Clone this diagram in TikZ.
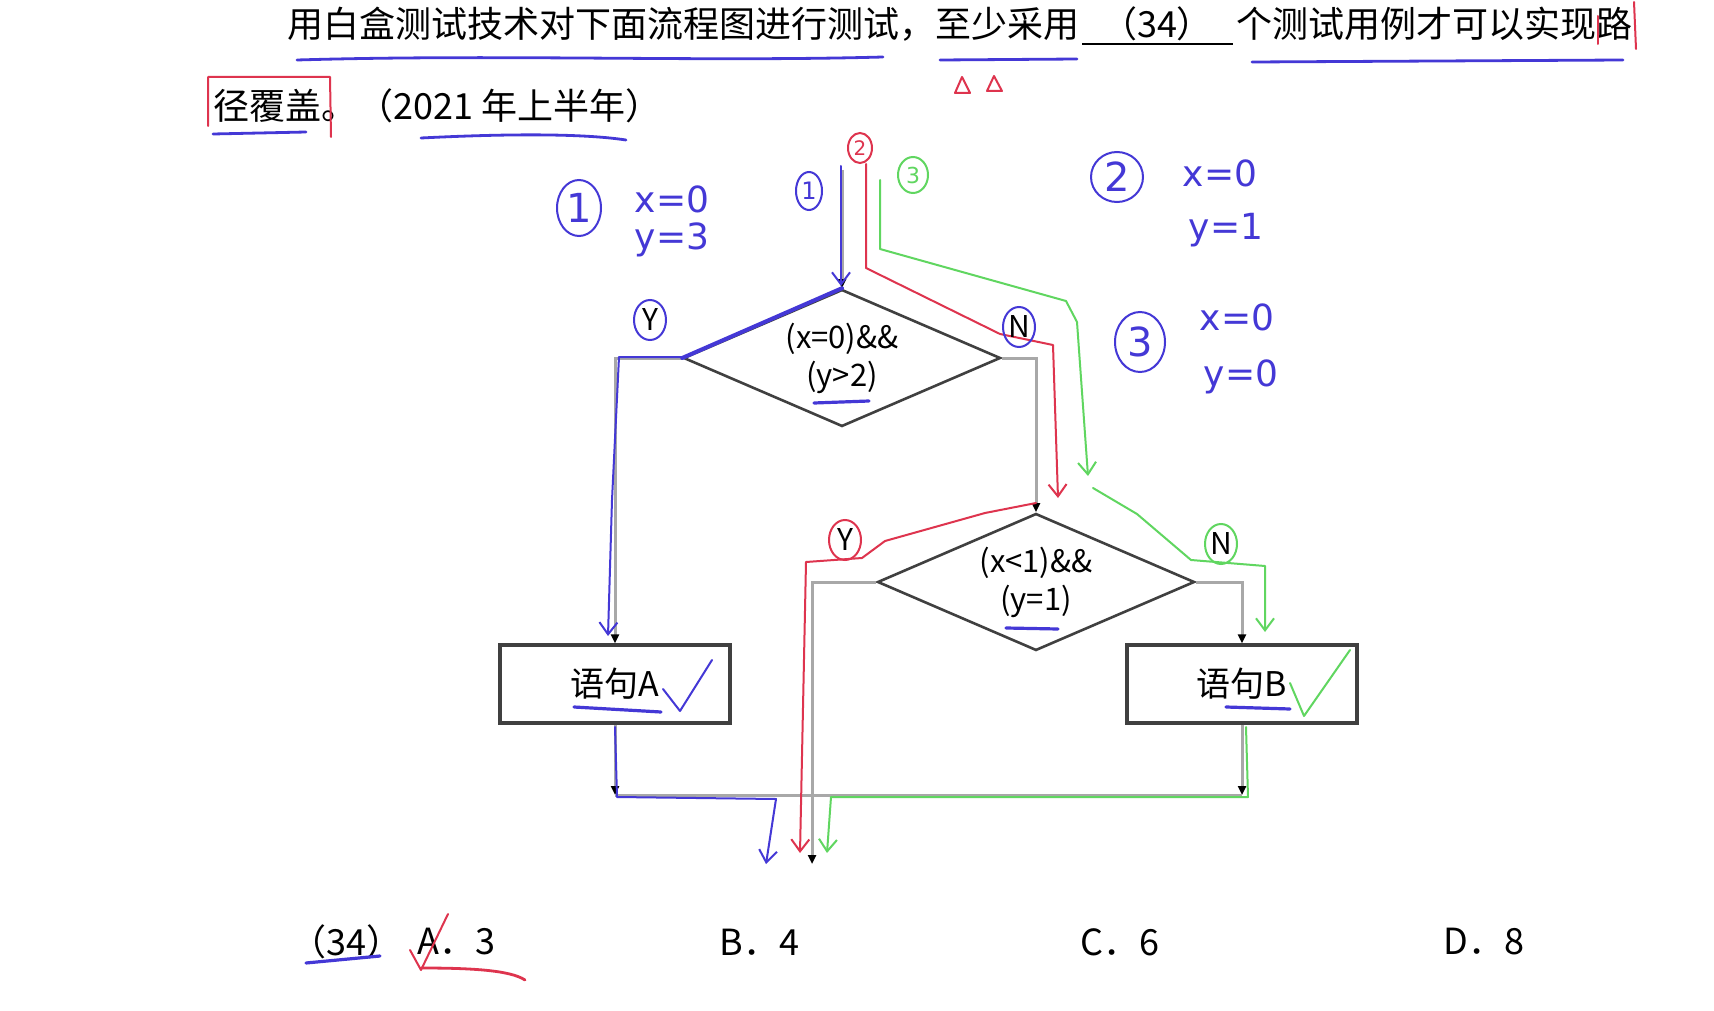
\documentclass[tikz,border=0pt]{standalone}
\usepackage{fontspec}
\setmainfont{Noto Sans CJK SC}
\newfontfamily\handfont{DejaVu Sans}
\usepackage{xcolor}
\usetikzlibrary{arrows.meta,shapes.geometric,positioning,calc}
\definecolor{penblue}{RGB}{68,56,214}
\definecolor{penred}{RGB}{222,52,78}
\definecolor{pengreen}{RGB}{96,214,96}
\definecolor{flowgray}{RGB}{168,168,168}

\begin{document}
\begin{tikzpicture}[x=0.5pt,y=-0.5pt,
  txt/.style={inner sep=0pt, font=\fontsize{18}{20}\selectfont},
  ans/.style={inner sep=0pt, font=\fontsize{18}{20}\selectfont},
  dec/.style={draw=black!75, line width=1.3pt, diamond, aspect=2.3, minimum width=158.5pt, minimum height=68.5pt, inner sep=0pt, align=center, font=\fontsize{15.5}{19}\selectfont},
  stmt/.style={draw=black!75, line width=1.6pt, minimum width=115pt, minimum height=39pt, font=\fontsize{17}{18}\selectfont},
  flow/.style={draw=flowgray, line width=1.5pt, -{Triangle[color=black,length=4.5pt,width=4pt]}},
  pen/.style={line width=1pt, line cap=round, line join=round},
  penarrow/.style={pen, -{Straight Barb[length=6pt,width=9pt]}},
  ring/.style={ellipse, draw, line width=1pt, inner sep=0pt},
  yn/.style={ring, font=\fontsize{15}{16}\selectfont, minimum width=16pt, minimum height=20pt},
  hand/.style={inner sep=0pt, font=\handfont\fontsize{18}{20}\selectfont, text=penblue},
]
\useasboundingbox[fill=white] (0,0) rectangle (1714,1011);

% question text
\node[txt, anchor=west] (q1) at (287,24) {用白盒测试技术对下面流程图进行测试，至少采用};
\node[txt] (blank) at (1157,24) {（34）};
\draw[line width=1.2pt] (1082,44) -- (1233,44);
\node[txt, anchor=west] (q2) at (1236,24) {个测试用例才可以实现路};
\node[txt, anchor=west] (q3) at (213,106) {径覆盖。（2021 年上半年）};

% flowchart
\node[dec] (d1) at (842,358) {(x=0)\&\&\\(y>2)};
\node[dec] (d2) at (1036,582) {(x<1)\&\&\\(y=1)};
\node[stmt] (sa) at (615,684) {语句A};
\node[stmt] (sb) at (1242,684) {语句B};
\coordinate (top) at (842,170);
\coordinate (exit) at (812,864);
\coordinate (join) at (615,795);

\draw[flow] (top) -- (d1.north);
\draw[flow] (d1.west) -| (sa.north);
\draw[flow] (d1.east) -| (d2.north);
\draw[flow] (d2.west) -| (exit);
\draw[flow] (d2.east) -| (sb.north);
\draw[flow] (sa.south) -- (sa.south |- join);
\draw[flow] (sb.south) -- (sb.south |- join);
\draw[flowgray, line width=1.5pt] (sa.south |- join) -- (sb.south |- join);

% path 1
\draw[penblue, penarrow] (841,166) -- (841,286);
\draw[penblue, pen, line width=2pt] (d1.north) -- (d1.west);
\draw[penblue, penarrow] (683,357) -- (619,357) -- (612,500) -- (608,636);
\draw[penblue, penarrow] (615,727) -- (617,797) -- (776,799) -- (766,864);
% path 2
\draw[penred, penarrow] (866,164) -- (866,268) -- (1000,334) -- (1053,345) -- (1058,498);
\draw[penred, penarrow] (1036,503) -- (985,513) -- (885,541) -- (862,558) -- (806,562) -- (800,853);
% path 3
\draw[pengreen, penarrow] (880,180) -- (880,249) -- (1066,301) -- (1077,322) -- (1088,476);
\draw[pengreen, penarrow] (1093,488) -- (1137,514) -- (1191,560) -- (1265,566) -- (1265,632);
\draw[pengreen, penarrow] (1246,727) -- (1248,797) -- (831,797) -- (827,853);

% path labels
\node[ring, draw=penblue, text=penblue, font=\handfont\fontsize{12}{12}\selectfont, minimum width=13pt, minimum height=19pt] (p1) at (809,191) {1};
\node[ring, draw=penred, text=penred, font=\handfont\fontsize{10}{10}\selectfont, minimum width=12pt, minimum height=15pt] (p2) at (860,148) {2};
\node[ring, draw=pengreen, text=pengreen, font=\handfont\fontsize{11}{11}\selectfont, minimum width=15pt, minimum height=18pt] (p3) at (913,175) {3};
\node[yn, draw=penblue] (y1) at (650,320) {Y};
\node[yn, draw=penblue] (n1) at (1019,327) {N};
\node[yn, draw=penred] (y2) at (845,540) {Y};
\node[yn, draw=pengreen] (n2) at (1221,544) {N};

% test cases
\node[ring, draw=penblue, text=penblue, font=\handfont\fontsize{20}{20}\selectfont, minimum width=22pt, minimum height=28pt] (c1) at (579,208) {1};
\node[hand] (c1x) at (672,199) {x=0};
\node[hand] (c1y) at (672,240) {y=3};
\node[ring, draw=penblue, text=penblue, font=\handfont\fontsize{20}{20}\selectfont, minimum width=26pt, minimum height=25pt] (c2) at (1117,177) {2};
\node[hand] (c2x) at (1220,173) {x=0};
\node[hand] (c2y) at (1226,230) {y=1};
\node[ring, draw=penblue, text=penblue, font=\handfont\fontsize{20}{20}\selectfont, minimum width=25pt, minimum height=30pt] (c3) at (1140,342) {3};
\node[hand] (c3x) at (1237,317) {x=0};
\node[hand] (c3y) at (1241,377) {y=0};

% marks
\draw[penblue, pen, line width=1.6pt] (574,707) -- (661,712);
\draw[penblue, pen, line width=1.6pt] (1226,707) -- (1290,709);
\draw[penblue, pen, line width=1.6pt] (814,403) -- (869,401);
\draw[penblue, pen, line width=1.6pt] (1006,628) -- (1058,629);
\draw[penblue, pen] (663,689) -- (680,711) -- (712,660);
\draw[pengreen, pen] (1290,683) -- (1304,716) -- (1350,650);
\draw[penblue, pen, line width=1.4pt] (297,60) .. controls (500,54) and (700,62) .. (883,57);
\draw[penblue, pen, line width=1.4pt] (940,60) -- (1077,59);
\draw[penblue, pen, line width=1.4pt] (1252,62) -- (1623,60);
\draw[penblue, pen, line width=1.4pt] (213,134) -- (306,132);
\draw[penblue, pen, line width=1.4pt] (421,138) .. controls (500,134) and (580,133) .. (626,140);
\draw[penred, pen] (955,93) -- (962,77) -- (970,93) -- cycle;
\draw[penred, pen] (987,91) -- (994,76) -- (1002,91) -- cycle;
\draw[penred, pen] (1598,16) -- (1598,44);
\draw[penred, pen] (1634,2) -- (1636,49);
\draw[penred, pen] (208,126) -- (208,77) -- (330,77) -- (331,137);

% answers
\node[ans, anchor=west] (a0) at (290,942) {（34）};
\node[ans, anchor=west] (a1) at (417,942) {A．3};
\node[ans, anchor=west] (a2) at (719,942) {B．4};
\node[ans, anchor=west] (a3) at (1080,942) {C．6};
\node[ans, anchor=west] (a4) at (1443,942) {D．8};
\draw[penblue, pen, line width=1.6pt] (306,963) -- (380,956);
\draw[penred, pen] (410,950) -- (421,970) -- (448,914);
\draw[penred, pen, line width=1.4pt] (421,968) .. controls (470,968) and (510,970) .. (525,980);
\end{tikzpicture}
\end{document}
